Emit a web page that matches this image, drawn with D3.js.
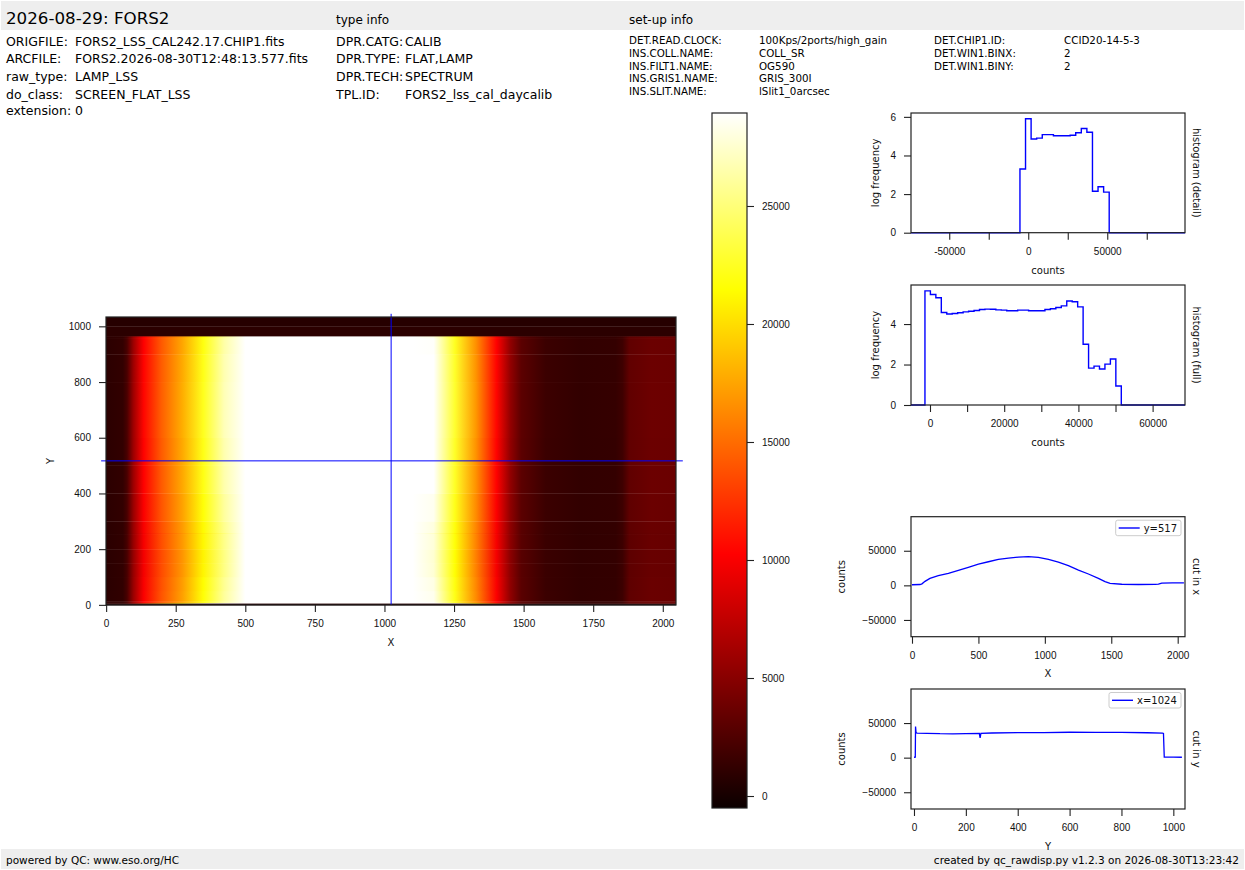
<!DOCTYPE html>
<html>
<head>
<meta charset="utf-8">
<script src="https://cdnjs.cloudflare.com/ajax/libs/d3/7.8.5/d3.min.js"></script>
<style>
  body { margin: 0; background: #fff; }
  svg { font-family: "DejaVu Sans", sans-serif; }
  .tick text { font-size: 10px; fill: #111; }
  .tick line { stroke: #222; stroke-width: 1.1; }
</style>
</head>
<body>
<script>
// ---- header / footer texts ----
const titleText = "2026-08-29: FORS2";
const origLabels = ["ORIGFILE:", "ARCFILE:", "raw_type:", "do_class:", "extension:"];
const origValues = ["FORS2_LSS_CAL242.17.CHIP1.fits", "FORS2.2026-08-30T12:48:13.577.fits", "LAMP_LSS", "SCREEN_FLAT_LSS", "0"];
const typeLabels = ["DPR.CATG:", "DPR.TYPE:", "DPR.TECH:", "TPL.ID:"];
const typeValues = ["CALIB", "FLAT,LAMP", "SPECTRUM", "FORS2_lss_cal_daycalib"];
const setupLabels1 = ["DET.READ.CLOCK:", "INS.COLL.NAME:", "INS.FILT1.NAME:", "INS.GRIS1.NAME:", "INS.SLIT.NAME:"];
const setupValues1 = ["100Kps/2ports/high_gain", "COLL_SR", "OG590", "GRIS_300I", "lSlit1_0arcsec"];
const setupLabels2 = ["DET.CHIP1.ID:", "DET.WIN1.BINX:", "DET.WIN1.BINY:"];
const setupValues2 = ["CCID20-14-5-3", "2", "2"];
const footerLeft = "powered by QC: www.eso.org/HC";
const footerRight = "created by qc_rawdisp.py v1.2.3 on 2026-08-30T13:23:42";

// ---- image / cuts ----
const cutRow = 517, cutCol = 1024;
// cut along x at y=517
const cutXPos = [0, 60, 75, 98, 135, 198, 274, 349, 424, 500, 575, 650, 726, 801, 876, 951, 1027, 1102, 1177, 1253, 1328, 1403, 1453, 1491, 1579, 1704, 1830, 1855, 1880, 1960, 2047];
const cutXVal = [900, 1200, 2200, 5800, 10100, 13900, 17300, 21600, 26000, 30800, 34100, 37500, 39400, 40900, 41400, 40400, 37500, 33700, 28400, 22100, 16400, 10100, 5300, 3000, 1600, 1200, 1300, 1700, 3200, 3700, 3600];
// cut along y at x=1024
const cutYPos = [0, 5, 6, 8, 12, 50, 100, 150, 200, 252, 255, 258, 300, 400, 500, 600, 700, 800, 900, 958, 962, 965, 1000, 1033];
const cutYVal = [600, 700, 45000, 36000, 35500, 35200, 34600, 34500, 34800, 34900, 28500, 35000, 35600, 36200, 36300, 36700, 36600, 36400, 36000, 35500, 35000, 900, 700, 600];

// ---- histograms (log10 frequency per bin) ----
const histDetailEdges = [-5250, -1720, 1810, 5340, 8870, 12400, 15930, 19460, 22990, 26520, 30050, 33580, 37110, 40640, 44170, 47700, 51230];
const histDetailLog = [3.3, 5.9, 4.85, 4.9, 5.08, 5.08, 5.02, 5.02, 5.02, 5.05, 5.18, 5.4, 5.2, 2.15, 2.38, 2.1];
const histFullEdges = [-1360, 110, 1580, 3050, 4520, 5990, 7460, 8930, 10400, 11870, 13340, 14810, 16280, 17750, 19220, 20690, 22160, 23630, 25100, 26570, 28040, 29510, 30980, 32450, 33920, 35390, 36860, 38330, 39800, 41270, 42740, 44210, 45680, 47150, 48620, 50090, 51560];
const histFullLog = [5.64, 5.46, 5.30, 4.57, 4.50, 4.52, 4.56, 4.60, 4.63, 4.67, 4.72, 4.74, 4.73, 4.70, 4.69, 4.66, 4.66, 4.69, 4.69, 4.66, 4.66, 4.66, 4.72, 4.76, 4.82, 4.90, 5.14, 5.10, 4.85, 3.00, 1.82, 1.92, 1.78, 2.02, 2.27, 0.94];

// ---- ticks ----
const imgXTicks = [0, 250, 500, 750, 1000, 1250, 1500, 1750, 2000];
const imgYTicks = [0, 200, 400, 600, 800, 1000];
const cbarTicks = [0, 5000, 10000, 15000, 20000, 25000];
const histDetailXTicks = [-50000, -25000, 0, 25000, 50000, 75000];
const histDetailYTicks = [0, 2, 4, 6];
const histFullXTicks = [0, 10000, 20000, 30000, 40000, 50000, 60000];
const histFullYTicks = [0, 2, 4];
const cutCountTicks = [-50000, 0, 50000];
const cutXTicks = [0, 500, 1000, 1500, 2000];
const cutYTicks = [0, 200, 400, 600, 800, 1000];

const W = 1245, H = 870;
const svg = d3.select("body").append("svg").attr("width", W).attr("height", H);
const defs = svg.append("defs");
const fmtInt = d3.format("d");

// header and footer bands
svg.append("rect").attr("x", 1).attr("y", 1).attr("width", W - 2).attr("height", 29).attr("fill", "#eeeeee");
svg.append("rect").attr("x", 1).attr("y", 849).attr("width", W - 2).attr("height", 20).attr("fill", "#eeeeee");

svg.append("text").attr("x", 6).attr("y", 24).attr("font-size", 16.7).text(titleText);
svg.append("text").attr("x", 336).attr("y", 23.5).attr("font-size", 12).text("type info");
svg.append("text").attr("x", 629).attr("y", 23.5).attr("font-size", 12).text("set-up info");

const rowBase = [46, 63, 81, 98.5, 114.5];
function infoBlock(labels, values, x0, x1, rows, fs) {
    labels.forEach((l, i) => {
        svg.append("text").attr("x", x0).attr("y", rows[i]).attr("font-size", fs).text(l);
        svg.append("text").attr("x", x1).attr("y", rows[i]).attr("font-size", fs).text(values[i]);
    });
}
infoBlock(origLabels, origValues, 6, 75, rowBase, 12.5);
infoBlock(typeLabels, typeValues, 336, 405, rowBase, 12.5);
const setupBase = [44, 56.5, 69.5, 82, 95];
infoBlock(setupLabels1, setupValues1, 629, 759, setupBase, 10.3);
infoBlock(setupLabels2, setupValues2, 934, 1064, setupBase, 10.3);

svg.append("text").attr("x", 6).attr("y", 863.5).attr("font-size", 10.5).text(footerLeft);
svg.append("text").attr("x", 1239).attr("y", 863.5).attr("font-size", 10.5).attr("text-anchor", "end").text(footerRight);

// matplotlib "hot" colormap
function hot(t) {
    t = Math.max(0, Math.min(1, t));
    const a = 0.365079, b = 0.746032;
    const r = t < a ? 0.0416 + (1 - 0.0416) * t / a : 1;
    const g = t < a ? 0 : (t < b ? (t - a) / (b - a) : 1);
    const bl = t < b ? 0 : (t - b) / (1 - b);
    return d3.rgb(r * 255, g * 255, bl * 255).formatHex();
}
const cNorm = d3.scaleLinear().domain([-508, 28940]).range([0, 1]).clamp(true);
const color = v => hot(cNorm(v));

// helper: axis styling
function styleAxis(g) {
    g.select(".domain").remove();
}
function frame(x0, y0, w, h) {
    svg.append("rect").attr("x", x0).attr("y", y0).attr("width", w).attr("height", h)
        .attr("fill", "none").attr("stroke", "#222").attr("stroke-width", 1.2);
}
function label(x, y, txt, rot) {
    svg.append("text").attr("transform", `translate(${x},${y}) rotate(${rot || 0})`)
        .attr("text-anchor", "middle").attr("dy", "0.35em").attr("font-size", 10).attr("fill", "#111").text(txt);
}

// ---------------- image ----------------
const xImg = d3.scaleLinear().domain([-0.5, 2047.5]).range([106, 676]);
const yImg = d3.scaleLinear().domain([-0.5, 1033.5]).range([605, 317]);
const brightRef = d3.median(cutYVal.filter(v => v > 5000));
const imgG = svg.append("g");
cutYPos.forEach((y0, i) => {
    if (i === cutYPos.length - 1) return;
    const yb = i === 0 ? -0.5 : y0;
    const yt = i === cutYPos.length - 2 ? 1033.5 : cutYPos[i + 1];
    const v = cutYVal[i];
    let fill;
    if (v < 5000) {
        fill = color(v);
    } else {
        // row scaling relative to the illuminated level (single-pixel dips ignored)
        const ratio = Math.max(0.95, v / brightRef);
        const gid = "band" + i;
        const grad = defs.append("linearGradient").attr("id", gid)
            .attr("gradientUnits", "userSpaceOnUse")
            .attr("x1", xImg.range()[0]).attr("x2", xImg.range()[1]).attr("y1", 0).attr("y2", 0);
        const span = xImg.range()[1] - xImg.range()[0];
        cutXPos.forEach((px, j) => {
            grad.append("stop").attr("offset", (xImg(px) - xImg.range()[0]) / span)
                .attr("stop-color", color(cutXVal[j] * ratio));
        });
        fill = `url(#${gid})`;
    }
    imgG.append("rect")
        .attr("x", xImg(-0.5)).attr("width", xImg(2047.5) - xImg(-0.5))
        .attr("y", yImg(yt)).attr("height", yImg(yb) - yImg(yt) + 0.3)
        .attr("fill", fill);
});
// cut markers
svg.append("line").attr("x1", xImg(-18)).attr("x2", xImg(2072)).attr("y1", yImg(cutRow)).attr("y2", yImg(cutRow))
    .attr("stroke", "#0000ff").attr("stroke-width", 1);
svg.append("line").attr("x1", xImg(cutCol)).attr("x2", xImg(cutCol)).attr("y1", yImg(1045)).attr("y2", yImg(-0.5))
    .attr("stroke", "#0000ff").attr("stroke-width", 1);
frame(106, 317, 570, 288);
svg.append("g").attr("transform", "translate(0,605)")
    .call(d3.axisBottom(xImg).tickValues(imgXTicks).tickFormat(fmtInt).tickSize(7).tickPadding(8)).call(styleAxis);
svg.append("g").attr("transform", "translate(106,0)")
    .call(d3.axisLeft(yImg).tickValues(imgYTicks).tickFormat(fmtInt).tickSize(7).tickPadding(8)).call(styleAxis);
label(391, 642, "X");
label(50, 461, "Y", -90);

// ---------------- colorbar ----------------
const yCb = d3.scaleLinear().domain([-508, 28940]).range([808, 113]);
const cbGrad = defs.append("linearGradient").attr("id", "cbar").attr("x1", 0).attr("x2", 0).attr("y1", 1).attr("y2", 0);
[0, 0.365079, 0.746032, 1].forEach(t => cbGrad.append("stop").attr("offset", t).attr("stop-color", hot(t)));
svg.append("rect").attr("x", 712).attr("y", 113).attr("width", 35).attr("height", 695).attr("fill", "url(#cbar)");
frame(712, 113, 35, 695);
svg.append("g").attr("transform", "translate(747,0)")
    .call(d3.axisRight(yCb).tickValues(cbarTicks).tickFormat(d => String(d)).tickSize(7).tickPadding(8)).call(styleAxis);

// ---------------- histograms ----------------
function histogram(edges, vals, xDom, yDom, top, bottom, xTicks, xLabelEvery, yTicks, sideLabel) {
    const x = d3.scaleLinear().domain(xDom).range([911, 1185]);
    const y = d3.scaleLinear().domain(yDom).range([bottom, top]);
    const pts = [[xDom[0], 0]];
    vals.forEach((v, i) => pts.push([edges[i], v]));
    pts.push([edges[edges.length - 1], 0], [xDom[1], 0]);
    svg.append("path").datum(pts)
        .attr("d", d3.line().x(d => x(d[0])).y(d => y(d[1])).curve(d3.curveStepAfter))
        .attr("fill", "none").attr("stroke", "#0000ff").attr("stroke-width", 1.4);
    frame(911, top, 274, bottom - top);
    svg.append("g").attr("transform", `translate(0,${bottom})`)
        .call(d3.axisBottom(x).tickValues(xTicks).tickFormat(d => d % xLabelEvery === 0 ? String(d) : "").tickSize(7).tickPadding(8))
        .call(styleAxis);
    svg.append("g").attr("transform", "translate(911,0)")
        .call(d3.axisLeft(y).tickValues(yTicks).tickFormat(d => String(d)).tickSize(7).tickPadding(8))
        .call(styleAxis);
    label(1048, bottom + 37.5, "counts");
    label(875, (top + bottom) / 2, "log frequency", -90);
    label(1196.5, (top + bottom) / 2, sideLabel, 90);
}
histogram(histDetailEdges, histDetailLog, [-74200, 99200], [0, 6.2], 113, 232.7,
    histDetailXTicks, 50000, histDetailYTicks, "histogram (detail)");
histogram(histFullEdges, histFullLog, [-5120, 68730], [0, 5.93], 285, 405,
    histFullXTicks, 20000, histFullYTicks, "histogram (full)");

// ---------------- cuts ----------------
function cutPlot(pos, vals, xDom, top, xTicks, xName, sideLabel, legendText, legendW) {
    const bottom = top + 120;
    const x = d3.scaleLinear().domain(xDom).range([911, 1185]);
    const y = d3.scaleLinear().domain([-74200, 99200]).range([bottom, top]);
    svg.append("path").datum(pos.map((p, i) => [p, vals[i]]))
        .attr("d", d3.line().x(d => x(d[0])).y(d => y(d[1])))
        .attr("fill", "none").attr("stroke", "#0000ff").attr("stroke-width", 1.3);
    frame(911, top, 274, 120);
    svg.append("g").attr("transform", `translate(0,${bottom})`)
        .call(d3.axisBottom(x).tickValues(xTicks).tickFormat(fmtInt).tickSize(7).tickPadding(8)).call(styleAxis);
    svg.append("g").attr("transform", "translate(911,0)")
        .call(d3.axisLeft(y).tickValues(cutCountTicks).tickFormat(fmtInt).tickSize(7).tickPadding(8))
        .call(styleAxis);
    label(1048, bottom + 37, xName);
    label(841, top + 60, "counts", -90);
    label(1196.5, top + 60, sideLabel, 90);
    // legend
    const lx = 1181 - legendW, ly = top + 3.5;
    svg.append("rect").attr("x", lx).attr("y", ly).attr("width", legendW).attr("height", 15.5)
        .attr("rx", 2).attr("fill", "#fff").attr("fill-opacity", 0.8).attr("stroke", "#cccccc");
    svg.append("line").attr("x1", lx + 3).attr("x2", lx + 24).attr("y1", ly + 7.8).attr("y2", ly + 7.8)
        .attr("stroke", "#0000ff").attr("stroke-width", 1.4);
    svg.append("text").attr("x", lx + 28).attr("y", ly + 7.8).attr("dy", "0.35em").attr("font-size", 10)
        .attr("fill", "#111").text(legendText);
}
cutPlot(cutXPos, cutXVal, [-7.5, 2055], 516.7, cutXTicks, "X", "cut in x", "y=" + cutRow, 65.3);
cutPlot(cutYPos, cutYVal, [-11.5, 1045], 689, cutYTicks, "Y", "cut in y", "x=" + cutCol, 72);
</script>
</body>
</html>
